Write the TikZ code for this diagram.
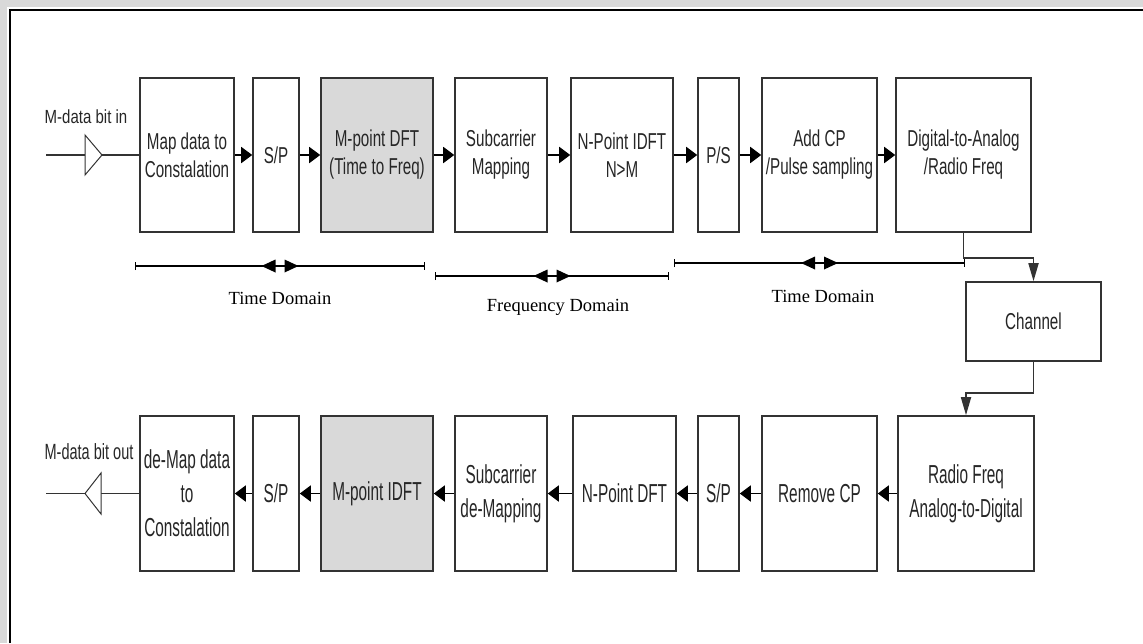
\documentclass[tikz,border=0pt]{standalone}
\usepackage{fontspec}
\setmainfont{Liberation Serif}
\newfontfamily\blkA[FakeStretch=0.66]{Liberation Sans}
\newfontfamily\blkB[FakeStretch=0.59]{Liberation Sans}
\newfontfamily\lblA[FakeStretch=0.79]{Liberation Sans}
\newfontfamily\lblB[FakeStretch=0.66]{Liberation Sans}
\usetikzlibrary{arrows.meta,calc}

\definecolor{boxline}{HTML}{333333}
\definecolor{textgray}{HTML}{262626}
\definecolor{dftfill}{HTML}{D9D9D9}
\definecolor{bandgray}{HTML}{D9D9D9}

\tikzset{
  blk/.style={draw=boxline, line width=1.6pt, fill=white, inner sep=0pt, align=center, text=textgray},
  toprow/.style={blk, minimum height=154pt, font=\blkA\fontsize{23}{28}\selectfont},
  botrow/.style={blk, minimum height=155pt, font=\blkB\fontsize{26}{34}\selectfont},
  shaded/.style={fill=dftfill},
  flow/.style={draw=black, line width=1.8pt, -{Triangle[length=11pt,width=16pt]}},
  vflow/.style={draw=boxline, line width=1.8pt, -{Triangle[length=18pt,width=10pt]}},
  wire/.style={draw=boxline, line width=1.5pt},
  buffer/.style={draw=boxline, line width=1pt, fill=white},
  span/.style={line width=1.4pt, {Bar[width=8pt]}-{Bar[width=8pt]}},
  domlabel/.style={font=\fontsize{18.5}{22}\selectfont, inner sep=0pt},
  twohead/.pic={
    \fill (-4.5,-6.5) -- (-18.5,0) -- (-4.5,6.5) -- cycle;
    \fill (4.5,-6.5) -- (18.5,0) -- (4.5,6.5) -- cycle;
  }
}

\begin{document}
\begin{tikzpicture}[x=1pt,y=-1pt]
\useasboundingbox (0,0) rectangle (1143,643);

% page margin band and frame
\fill[bandgray] (0,0) rectangle (1143,6.5);
\fill[bandgray] (0,0) rectangle (7,643);
\draw[line width=2.5pt] (10,643) -- (10,10) -- (1143,10);

% transmitter chain
\node[toprow, minimum width=94pt]  (map)  at (187,155)   {Map data to\\Constalation};
\node[toprow, minimum width=46pt]  (sp1)  at (276,155)   {S/P};
\node[toprow, shaded, minimum width=112pt] (dft) at (377,155) {M-point DFT\\(Time to Freq)};
\node[toprow, minimum width=92pt]  (scm)  at (501,155)   {Subcarrier\\Mapping};
\node[toprow, minimum width=102pt] (idft) at (622,155)   {N-Point IDFT\\N>M};
\node[toprow, minimum width=41pt]  (ps)   at (718.5,155) {P/S};
\node[toprow, minimum width=115pt] (cp)   at (819.5,155) {Add CP\\/Pulse sampling};
\node[toprow, minimum width=135pt] (dac)  at (963.5,155) {Digital-to-Analog\\/Radio Freq};

% channel
\node[blk, minimum width=135pt, minimum height=79pt, font=\blkA\fontsize{23}{28}\selectfont] (ch) at (1033.5,321.5) {Channel};

% receiver chain
\node[botrow, minimum width=94pt]  (demap) at (187,493.5)   {de-Map data\\to\\Constalation};
\node[botrow, minimum width=46pt]  (sp2)   at (276,493.5)   {S/P};
\node[botrow, shaded, minimum width=112pt] (idftb) at (377,493.5) {M-point IDFT};
\node[botrow, minimum width=92pt]  (scdm)  at (501,493.5)   {Subcarrier\\de-Mapping};
\node[botrow, minimum width=103pt] (ndft)  at (624.5,493.5) {N-Point DFT};
\node[botrow, minimum width=41pt]  (sp3)   at (718.5,493.5) {S/P};
\node[botrow, minimum width=115pt] (rmcp)  at (819.5,493.5) {Remove CP};
\node[botrow, minimum width=136pt] (adc)   at (966,493.5)   {Radio Freq\\Analog-to-Digital};

% input and output lines with buffer symbols
\coordinate (inA) at (46,155);
\coordinate (outA) at (46,493.5);
\draw[wire] (inA) -- (map);
\draw[buffer] (85,135) -- (102,155) -- (85,175) -- cycle;
\draw[wire] (outA) -- (demap);
\draw[buffer] (101,473) -- (85,493.5) -- (101,514) -- cycle;
\node[font=\lblA\fontsize{19}{22}\selectfont, inner sep=0pt, text=textgray] (lin) at (86,117) {M-data bit in};
\node[font=\lblB\fontsize{22}{26}\selectfont, inner sep=0pt, text=textgray] (lout) at (89,452) {M-data bit out};

% forward path
\draw[flow] (map) -- (sp1);
\draw[flow] (sp1) -- (dft);
\draw[flow] (dft) -- (scm);
\draw[flow] (scm) -- (idft);
\draw[flow] (idft) -- (ps);
\draw[flow] (ps) -- (cp);
\draw[flow] (cp) -- (dac);

% through the channel
\draw[vflow] (dac.south) -- ++(0,25) -| (ch.north);
\draw[vflow] (ch.south) -- ++(0,31) -| (adc.north);

% return path
\draw[flow] (adc) -- (rmcp);
\draw[flow] (rmcp) -- (sp3);
\draw[flow] (sp3) -- (ndft);
\draw[flow] (ndft) -- (scdm);
\draw[flow] (scdm) -- (idftb);
\draw[flow] (idftb) -- (sp2);
\draw[flow] (sp2) -- (demap);

% domain spans
\coordinate (t1a) at (135,266);
\coordinate (t1b) at (425,266);
\coordinate (fa) at (435,276);
\coordinate (fb) at (669,276);
\coordinate (t2a) at (674,263);
\coordinate (t2b) at (965,263);
\draw[span] (t1a) -- (t1b);
\draw[span] (fa) -- (fb);
\draw[span] (t2a) -- (t2b);
\pic at ($(t1a)!0.5!(t1b)$) {twohead};
\pic at ($(fa)!0.5!(fb)$) {twohead};
\pic at ($(t2a)!0.5!(t2b)$) {twohead};
\node[domlabel] (td1) at (280,298) {Time Domain};
\node[domlabel] (fd)  at (558,307) {Frequency Domain};
\node[domlabel] (td2) at (823,296) {Time Domain};
\end{tikzpicture}
\end{document}
